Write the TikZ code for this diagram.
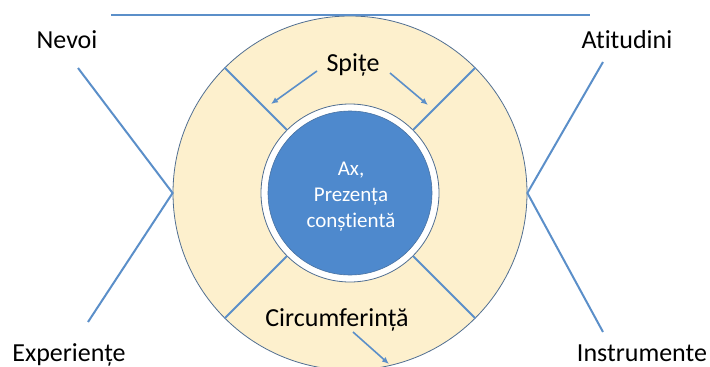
\documentclass[tikz,border=0pt]{standalone}
\usepackage{fontspec}
\setmainfont[Ligatures=NoCommon]{Carlito}
\usetikzlibrary{arrows.meta}
\definecolor{lineblue}{RGB}{91,143,201}
\definecolor{beige}{RGB}{253,240,205}
\definecolor{coreblue}{RGB}{78,137,205}
\definecolor{rimgray}{RGB}{80,110,145}
\tikzset{
  conn/.style={draw=lineblue, line width=2pt},
  arr/.style={draw=lineblue, line width=1.6pt, -{Latex[length=7pt,width=6pt]}},
  lbl/.style={font=\fontsize{26}{30}\selectfont, inner sep=0pt, text=black, anchor=base},
}
\begin{document}
\begin{tikzpicture}[x=1pt,y=-1pt]
\useasboundingbox (0,0) rectangle (710,367);
\begin{scope}
\clip (0,0) rectangle (710,367);
\node[circle, draw=rimgray, line width=0.8pt, fill=beige, minimum size=354pt, inner sep=0pt] (outer) at (350,193) {};
\end{scope}
\node[circle, draw=rimgray, line width=0.8pt, fill=white, minimum size=178pt, inner sep=0pt] (ring) at (350,193) {};
\node[circle, draw=lineblue!80!black, line width=0.6pt, fill=coreblue, minimum size=164pt, inner sep=0pt] (core) at (350,193) {};
\node[align=center, text=white, font=\fontsize{21}{26}\selectfont, inner sep=0pt] (coretxt) at (351,197) {Ax,\\Prezența\\conștientă};
% spokes
\foreach \a in {45,135,225,315}{
  \draw[conn] (ring.\a) -- (outer.\a);
}
% top line
\coordinate (tl) at (111,15);
\coordinate (tr) at (590,15);
\draw[conn] (tl) -- (tr);
% labels
\node[lbl] (spite) at (353,71) {Spițe};
\node[lbl] (circ) at (337,326) {Circumferință};
\node[lbl] (nevoi) at (67,48) {Nevoi};
\node[lbl] (exp) at (69,361) {Experiențe};
\node[lbl] (atit) at (627,48) {Atitudini};
\node[lbl] (instr) at (642,361) {Instrumente};
% arrows
\coordinate (a1s) at (317,71); \coordinate (a1e) at (271,104);
\coordinate (a2s) at (390,73); \coordinate (a2e) at (428,105);
\coordinate (a3s) at (353,332); \coordinate (a3e) at (389,364);
\draw[arr] (a1s) -- (a1e);
\draw[arr] (a2s) -- (a2e);
\draw[arr] (a3s) -- (a3e);
% side lines
\coordinate (nv) at (78,68);
\coordinate (ex) at (88,322);
\coordinate (at) at (603,62);
\coordinate (in) at (603,332);
\draw[conn] (nv) -- (outer.west) -- (ex);
\draw[conn] (at) -- (outer.east) -- (in);
\end{tikzpicture}
\end{document}
